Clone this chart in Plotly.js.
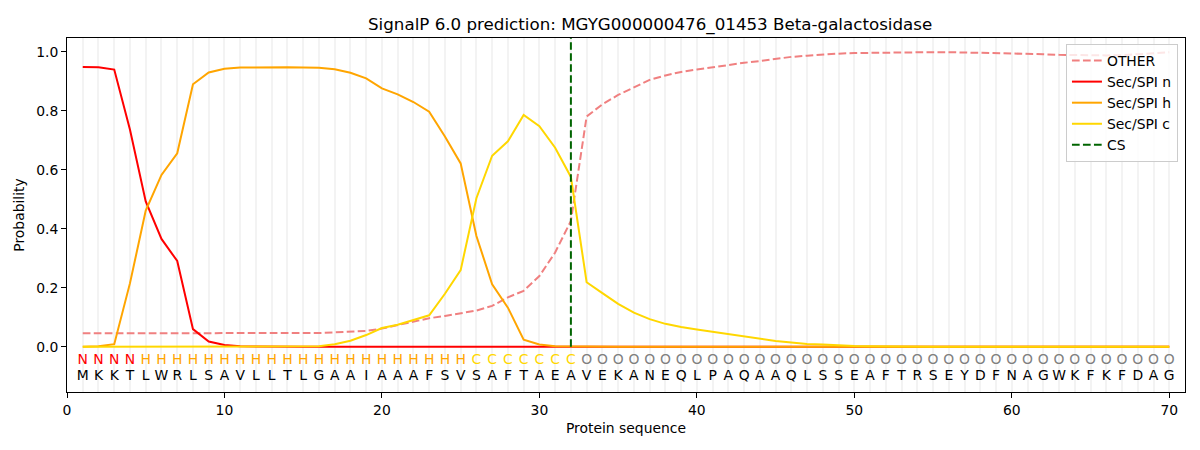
<!DOCTYPE html>
<html>
<head>
<meta charset="utf-8">
<script src="https://cdn.plot.ly/plotly-3.0.1.min.js"></script>
<style>html,body{margin:0;padding:0;background:#fff;}#chart{width:1200px;height:450px;}</style>
</head>
<body>
<div id="chart"></div>
<script>
const positions = Array.from({length: 70}, (_, i) => i + 1);
const sequence = "MKKTLWRLSAVLLTLGAAIAAAFSVSAFTAEAVEKANEQLPAQAAQLSSEAFTRSEYDFNAGWKFKFDAG".split("");
const regionLabels = "NNNNHHHHHHHHHHHHHHHHHHHHHCCCCCCCOOOOOOOOOOOOOOOOOOOOOOOOOOOOOOOOOOOOOO".split("");
const cleavageSite = 32;

const otherProb = [
  0.046,0.046,0.046,0.046,0.046,0.046,0.046,0.046,0.046,0.046,
  0.046,0.046,0.046,0.046,0.047,0.047,0.049,0.051,0.054,0.062,
  0.073,0.085,0.097,0.105,0.115,0.123,0.139,0.168,0.19,0.24,
  0.32,0.427,0.781,0.822,0.854,0.880,0.905,0.920,0.932,0.940,
  0.948,0.956,0.963,0.969,0.976,0.983,0.987,0.991,0.994,0.996,
  0.997,0.998,0.999,0.999,0.999,0.999,0.998,0.998,0.997,0.996,
  0.994,0.992,0.990,0.989,0.988,0.988,0.989,0.991,0.995,0.999
];
const secN = [
  0.949,0.948,0.940,0.736,0.493,0.366,0.291,0.060,0.018,0.006,
  0.002,0.001,0.001,0,0,0,0,0,0,0,
  0,0,0,0,0,0,0,0,0,0,
  0,0,0,0,0,0,0,0,0,0,
  0,0,0,0,0,0,0,0,0,0,
  0,0,0,0,0,0,0,0,0,0,
  0,0,0,0,0,0,0,0,0,0
];
const secH = [
  0.000,0.002,0.009,0.216,0.462,0.583,0.656,0.890,0.930,0.943,
  0.947,0.948,0.948,0.948,0.947,0.946,0.941,0.929,0.910,0.876,
  0.856,0.830,0.797,0.713,0.622,0.376,0.212,0.133,0.024,0.008,
  0.002,0.001,0,0,0,0,0,0,0,0,
  0,0,0,0,0,0,0,0,0,0,
  0,0,0,0,0,0,0,0,0,0,
  0,0,0,0,0,0,0,0,0,0
];
const secC = [
  0,0,0,0,0,0,0,0,0,0,
  0,0,0,0,0.001,0.002,0.009,0.021,0.040,0.064,
  0.075,0.090,0.107,0.180,0.260,0.504,0.648,0.697,0.786,0.748,
  0.675,0.576,0.219,0.182,0.146,0.116,0.094,0.078,0.067,0.059,
  0.051,0.043,0.036,0.028,0.020,0.015,0.010,0.008,0.005,0.003,
  0.002,0.001,0.001,0,0,0,0,0,0,0,
  0,0,0,0,0,0,0,0,0,0
];

const labelColors = {N: "#ff0000", H: "#ffa500", C: "#ffd700", O: "#808080"};
const FONT = "DejaVu Sans, sans-serif";
const dash = "7.7px,3.3px";

const traces = [
  {x: positions, y: otherProb, name: "OTHER", mode: "lines",
   line: {color: "#f08080", width: 2, dash: dash}},
  {x: positions, y: secN, name: "Sec/SPI n", mode: "lines",
   line: {color: "#ff0000", width: 2}},
  {x: positions, y: secH, name: "Sec/SPI h", mode: "lines",
   line: {color: "#ffa500", width: 2}},
  {x: positions, y: secC, name: "Sec/SPI c", mode: "lines",
   line: {color: "#ffd700", width: 2}},
  {x: [cleavageSite, cleavageSite], y: [0, 1.05], name: "CS", mode: "lines",
   line: {color: "#006400", width: 2, dash: dash}},
  {x: positions, y: positions.map(() => -0.047), mode: "text", text: regionLabels,
   textposition: "middle center", showlegend: false, hoverinfo: "skip",
   textfont: {family: FONT, size: 13.9, color: regionLabels.map(l => labelColors[l])}},
  {x: positions, y: positions.map(() => -0.102), mode: "text", text: sequence,
   textposition: "middle center", showlegend: false, hoverinfo: "skip",
   textfont: {family: FONT, size: 13.9, color: "#000000"}}
];

const layout = {
  width: 1200, height: 450,
  margin: {l: 67, r: 15, t: 38, b: 58},
  paper_bgcolor: "#ffffff", plot_bgcolor: "#ffffff",
  font: {family: FONT, size: 13.9, color: "#000000"},
  title: {text: "SignalP 6.0 prediction: MGYG000000476_01453 Beta-galactosidase",
          font: {family: FONT, size: 16.7, color: "#000000"},
          x: 0.5216, xref: "paper", xanchor: "center", y: 0.947, yref: "container", yanchor: "middle"},
  xaxis: {range: [0, 71], tickmode: "array", tickvals: [0,10,20,30,40,50,60,70],
          ticks: "outside", ticklen: 5, tickwidth: 1, tickcolor: "#000",
          showline: true, linecolor: "#000", linewidth: 1, mirror: true,
          showgrid: true, gridcolor: "#f3f3f3", gridwidth: 2, zeroline: false,
          minor: {dtick: 1, tick0: 0, showgrid: true, gridcolor: "#f3f3f3", gridwidth: 2, ticks: ""},
          title: {text: "Protein sequence", font: {family: FONT, size: 13.9}, standoff: 6}},
  yaxis: {range: [-0.153, 1.047], tickmode: "array", tickvals: [0,0.2,0.4,0.6,0.8,1.0],
          ticktext: ["0.0","0.2","0.4","0.6","0.8","1.0"],
          ticks: "outside", ticklen: 5, tickwidth: 1, tickcolor: "#000",
          showline: true, linecolor: "#000", linewidth: 1, mirror: true,
          showgrid: false, zeroline: false,
          title: {text: "Probability", font: {family: FONT, size: 13.9}, standoff: 8}},
  legend: {x: 0.9937, y: 0.983, xanchor: "right", yanchor: "top",
           bgcolor: "rgba(255,255,255,0.8)", bordercolor: "#cccccc", borderwidth: 1,
           font: {family: FONT, size: 13.9, color: "#000"}},
  showlegend: true
};

Plotly.newPlot("chart", traces, layout, {staticPlot: true, displayModeBar: false});
</script>
</body>
</html>
